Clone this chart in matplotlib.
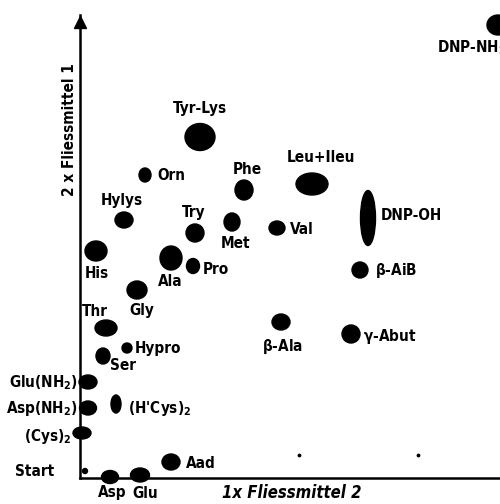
import matplotlib
matplotlib.use("Agg")
import matplotlib.pyplot as plt
from matplotlib.patches import Ellipse
from matplotlib import font_manager as fm

# Spot data (position along solvent 2, solvent 1; spot width, height)
names = ["DNP-NH$_2$", "Tyr-Lys", "Orn", "Phe", "Leu+Ileu", "DNP-OH", "Hylys", "Try",
         "Met", "Val", "His", "Ala", "Pro", "$\\beta$-AiB", "Gly", "Thr", "$\\beta$-Ala",
         "$\\gamma$-Abut", "Hypro", "Ser", "Glu(NH$_2$)", "Asp(NH$_2$)", "(H'Cys)$_2$",
         "(Cys)$_2$", "Aad", "Start", "Asp", "Glu"]
x_vals = [418, 120, 65, 164, 232, 288, 44, 115, 152, 197, 16, 91, 113, 280, 57, 26, 201,
          271, 47, 23, 8, 8, 36, 2, 91, 5, 30, 60]
y_vals = [453, 341, 303, 288, 294, 260, 258, 245, 256, 250, 227, 220, 212, 208, 188, 150,
          156, 144, 130, 122, 96, 70, 74, 45, 16, 7, 1, 3]
w_vals = [22, 30, 12, 18, 32, 15, 18, 18, 16, 16, 22, 22, 13, 16, 20, 22, 18, 18, 10, 14,
          18, 17, 10, 18, 18, 5, 17, 19]
h_vals = [20, 27, 14, 20, 22, 55, 16, 18, 18, 14, 20, 24, 15, 16, 18, 16, 16, 18, 10, 16,
          14, 14, 18, 12, 16, 5, 13, 14]
dust_x = [219, 338]
dust_y = [23, 23]

# label placement (offset in pixels, alignment)
label_pos = {
    "DNP-NH$_2$": (-61, -23, "left"), "Tyr-Lys": (0, 29, "center"), "Orn": (12, -1, "left"),
    "Phe": (3, 20, "center"), "Leu+Ileu": (9, 26, "center"), "DNP-OH": (13, 3, "left"),
    "Hylys": (-2, 20, "center"), "Try": (-1, 21, "center"), "Met": (4, -21, "center"),
    "Val": (13, -1, "left"), "His": (1, -22, "center"), "Ala": (-1, -24, "center"),
    "Pro": (10, -3, "left"), "$\\beta$-AiB": (15, 0, "left"), "Gly": (5, -21, "center"),
    "Thr": (-11, 17, "center"), "$\\beta$-Ala": (2, -25, "center"),
    "$\\gamma$-Abut": (12, -3, "left"), "Hypro": (8, -1, "left"), "Ser": (20, -10, "center"),
    "Glu(NH$_2$)": (-10, -1, "right"), "Asp(NH$_2$)": (-10, -1, "right"),
    "(H'Cys)$_2$": (12, -4, "left"), "(Cys)$_2$": (-10, -3, "right"), "Aad": (15, -2, "left"),
    "Start": (-70, 0, "left"), "Asp": (2, -16, "center"), "Glu": (5, -18, "center"),
}

# pick a condensed bold face if one is installed
cands = [f for f in fm.fontManager.ttflist
         if ("Condensed" in f.fname or "Narrow" in f.fname) and
         ("Bold" in f.fname) and ("Oblique" not in f.fname and "Italic" not in f.fname)]
if cands:
    fam = cands[0].name
    stretch = cands[0].stretch
else:
    fam = "DejaVu Sans"
    stretch = "normal"
plt.rcParams["font.family"] = [fam, "DejaVu Sans"]
plt.rcParams["font.stretch"] = stretch
plt.rcParams["mathtext.fontset"] = "custom"
plt.rcParams["mathtext.rm"] = fam + ":bold"
plt.rcParams["mathtext.it"] = fam + ":bold:italic"
plt.rcParams["mathtext.default"] = "rm"

fig = plt.figure(figsize=(5.0, 5.04), dpi=100)
ax = fig.add_axes([0.16, 26 / 504, 0.84, 463 / 504])
ax.set_xlim(0, 420)
ax.set_ylim(0, 463)
for s in ["top", "right"]:
    ax.spines[s].set_visible(False)
ax.spines["left"].set_linewidth(1.8)
ax.spines["bottom"].set_linewidth(1.8)
ax.set_xticks([])
ax.set_yticks([])
ax.patch.set_alpha(0)

for n, x, y, w, h in zip(names, x_vals, y_vals, w_vals, h_vals):
    ax.add_patch(Ellipse((x, y), w, h, facecolor="black", edgecolor="black", clip_on=False))
    dx, dy, ha = label_pos[n]
    ax.text(x + dx, y + dy, n, ha=ha, va="center", fontsize=11, fontweight="bold",
            fontstretch=stretch, clip_on=False)

ax.scatter(dust_x, dust_y, s=3, color="black")
ax.plot([0], [456], marker="^", markersize=8, color="black", clip_on=False)

fig.text(292 / 500, 1 - 493 / 504, "1x Fliessmittel 2", ha="center", va="center",
         fontsize=12, fontweight="bold", style="italic", fontstretch=stretch)
fig.text(70 / 500, 1 - 130 / 504, "2 x Fliessmittel 1", ha="center", va="center",
         fontsize=11, fontweight="bold", rotation=90, fontstretch=stretch)

fig.savefig("out.png", dpi=100)
